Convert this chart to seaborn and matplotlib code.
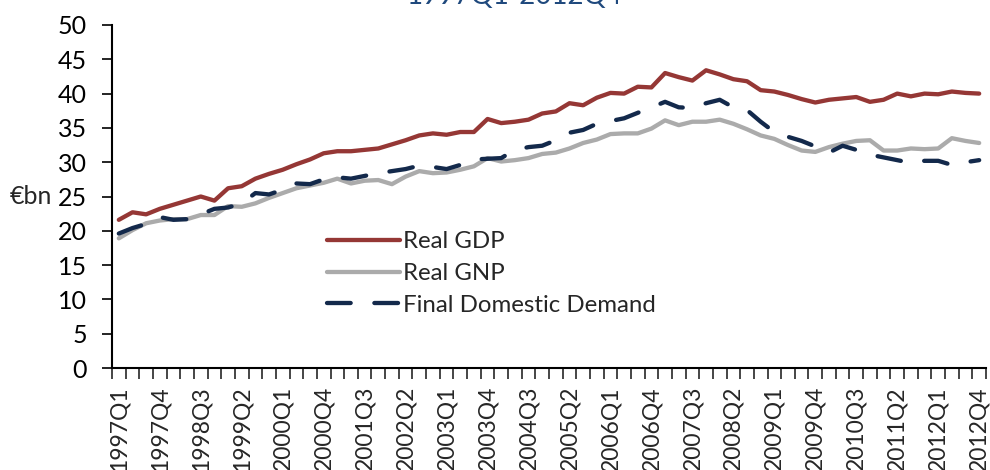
import numpy as np
import pandas as pd
import matplotlib
matplotlib.use('Agg')
import matplotlib.pyplot as plt
import seaborn as sns
from matplotlib.ticker import MultipleLocator, FixedLocator

# quarters 1997Q1 .. 2012Q4
quarters = [f"{y}Q{q}" for y in range(1997, 2013) for q in range(1, 5)]

real_gdp = [21.6, 22.7, 22.4, 23.2, 23.8, 24.4, 25.0, 24.4, 26.2, 26.5,
            27.6, 28.3, 28.9, 29.7, 30.4, 31.3, 31.6, 31.6, 31.8, 32.0,
            32.6, 33.2, 33.9, 34.2, 34.0, 34.4, 34.4, 36.3, 35.7, 35.9,
            36.2, 37.1, 37.4, 38.6, 38.3, 39.4, 40.1, 40.0, 41.0, 40.9,
            43.0, 42.4, 41.9, 43.4, 42.8, 42.1, 41.8, 40.5, 40.3, 39.8,
            39.2, 38.7, 39.1, 39.3, 39.5, 38.8, 39.1, 40.0, 39.6, 40.0,
            39.9, 40.3, 40.1, 40.0]

real_gnp = [18.9, 20.1, 21.1, 21.5, 21.7, 21.7, 22.3, 22.3, 23.6, 23.5,
            24.0, 24.8, 25.5, 26.2, 26.6, 27.0, 27.6, 26.9, 27.3, 27.4,
            26.8, 27.9, 28.7, 28.4, 28.5, 28.9, 29.4, 30.6, 30.1, 30.3,
            30.6, 31.2, 31.4, 32.0, 32.8, 33.3, 34.1, 34.2, 34.2, 34.9,
            36.1, 35.4, 35.9, 35.9, 36.2, 35.6, 34.8, 33.9, 33.4, 32.5,
            31.7, 31.5, 32.2, 32.7, 33.1, 33.2, 31.7, 31.7, 32.0, 31.9,
            32.0, 33.5, 33.1, 32.8]

final_dom_demand = [19.6, 20.4, 21.0, 22.0, 21.6, 21.7, 22.4, 23.2, 23.4, 24.0,
                    25.5, 25.3, 26.0, 26.9, 26.8, 27.5, 27.8, 27.6, 28.0, 28.4,
                    28.7, 29.0, 29.5, 29.3, 29.0, 29.6, 30.4, 30.5, 30.6, 31.8,
                    32.2, 32.4, 33.2, 34.3, 34.7, 35.6, 36.0, 36.4, 37.2, 38.0,
                    38.8, 38.0, 37.9, 38.6, 39.1, 38.0, 37.6, 35.9, 34.4, 33.7,
                    33.1, 32.3, 31.4, 32.4, 31.8, 31.1, 30.7, 30.3, 29.9, 30.2,
                    30.2, 29.6, 30.0, 30.3]

series_names = ["Real GDP", "Real GNP", "Final Domestic Demand"]
colors = {"Real GDP": "#953735", "Real GNP": "#ABABAB",
          "Final Domestic Demand": "#13294B"}

df = pd.DataFrame({"idx": range(len(quarters)), "quarter": quarters,
                   "Real GDP": real_gdp, "Real GNP": real_gnp,
                   "Final Domestic Demand": final_dom_demand})
long_df = df.melt(id_vars=["idx", "quarter"], value_vars=series_names,
                  var_name="series", value_name="value")

sns.set_style("white")
plt.rcParams['font.family'] = ['Lato', 'DejaVu Sans']

fig = plt.figure(figsize=(9.9, 4.7), dpi=100)
ax = fig.add_axes([112 / 990, 1 - 368 / 470, 874 / 990, 343 / 470])

sns.lineplot(data=long_df, x="idx", y="value", hue="series", style="series",
             hue_order=series_names, style_order=series_names,
             palette=colors,
             dashes={"Real GDP": "", "Real GNP": "",
                     "Final Domestic Demand": (5.5, 5.5)},
             linewidth=3.1, sort=False, ax=ax, legend=False,
             solid_capstyle='round', dash_capstyle='round',
             solid_joinstyle='round', dash_joinstyle='round')

ax.set_xlim(-0.5, len(quarters) - 0.5)
ax.set_ylim(0, 50)
ax.yaxis.set_major_locator(MultipleLocator(5))
ax.tick_params(axis='y', labelsize=18, length=7, width=1.2, pad=11,
               colors='black', left=True)

label_pos = list(range(0, len(quarters), 3))
ax.xaxis.set_major_locator(FixedLocator(label_pos))
ax.set_xticklabels([quarters[i] for i in label_pos], rotation=90)
ax.xaxis.set_minor_locator(FixedLocator(np.arange(-0.5, len(quarters), 1)))
ax.tick_params(axis='x', which='major', length=0, labelsize=16.5, pad=13)
ax.tick_params(axis='x', which='minor', length=8, width=1.2, bottom=True)

ax.set_xlabel("")
ax.set_ylabel("")
for side in ['top', 'right']:
    ax.spines[side].set_visible(False)
for side in ['left', 'bottom']:
    ax.spines[side].set_color('black')
    ax.spines[side].set_linewidth(1.5)

fig.text(31 / 990, 1 - 197 / 470, "€bn", fontsize=18, ha='center', va='center')

leg = ax.legend(ax.lines[:3], series_names, loc='upper left',
                bbox_to_anchor=(0.2465, 0.399), frameon=False, fontsize=17.3,
                handlelength=3.0, handletextpad=0.15, labelspacing=0.45,
                borderpad=0, borderaxespad=0)

fig.text(0.52, 1 - 4 / 470, "1997Q1-2012Q4", fontsize=20, color='#1F497D',
         ha='center', va='baseline')

fig.savefig("out.png", dpi=100)
